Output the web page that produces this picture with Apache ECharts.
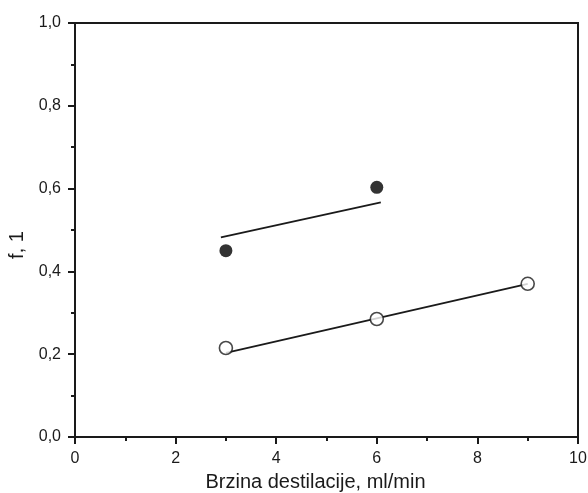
<!DOCTYPE html>
<html>
<head>
<meta charset="utf-8">
<script src="https://cdn.jsdelivr.net/npm/echarts@6/dist/echarts.min.js"></script>
<style>
  html, body { margin: 0; padding: 0; background: #fff; }
  #chart { width: 588px; height: 493px; }
</style>
</head>
<body>
<div id="chart"></div>
<script>
// measured points
const filledX = [3, 6];
const filledY = [0.45, 0.603];
const openX = [3, 6, 9];
const openY = [0.215, 0.285, 0.37];
// fitted lines (end points)
const filledFitX = [2.9, 6.08];
const filledFitY = [0.482, 0.567];
const openFitX = [3, 9];
const openFitY = [0.203, 0.37];

const pairs = (xs, ys) => xs.map((x, i) => [x, ys[i]]);

const chart = echarts.init(document.getElementById("chart"));
const font = "Liberation Sans, Arial, sans-serif";
const ink = "#1a1a1a";

let xAxis = {
  type: "value",
  min: 0,
  max: 10,
  interval: 2,
  name: "Brzina destilacije, ml/min",
  nameLocation: "center",
  nameGap: 35,
  nameTextStyle: { color: ink, fontSize: 20, fontFamily: font, padding: [0, 22, 0, 0] },
  axisLine: { onZero: false, lineStyle: { color: ink, width: 2 } },
  axisTick: { show: true, inside: false, length: 7, lineStyle: { color: ink, width: 2 } },
  minorTick: { show: true, splitNumber: 2, length: 4, lineStyle: { color: ink, width: 2 } },
  axisLabel: {
    color: ink,
    fontSize: 16,
    fontFamily: font,
    margin: 14,
    formatter: (v) => String(v),
  },
  splitLine: { show: false },
};

let yAxis = {
  type: "value",
  min: 0,
  max: 1,
  interval: 0.2,
  name: "f, 1",
  nameLocation: "center",
  nameGap: 44,
  nameTextStyle: { color: ink, fontSize: 20, fontFamily: font, padding: [0, 30, 0, 0] },
  axisLine: { onZero: false, lineStyle: { color: ink, width: 2 } },
  axisTick: { show: true, inside: false, length: 7, lineStyle: { color: ink, width: 2 } },
  minorTick: { show: true, splitNumber: 2, length: 4, lineStyle: { color: ink, width: 2 } },
  axisLabel: {
    color: ink,
    fontSize: 16,
    fontFamily: font,
    margin: 14,
    formatter: (v) => v.toFixed(1).replace(".", ","),
  },
  splitLine: { show: false },
};

let series = [
  {
    name: "fit1",
    type: "line",
    data: pairs(filledFitX, filledFitY),
    symbol: "none",
    lineStyle: { color: ink, width: 1.8 },
    z: 1,
  },
  {
    name: "fit2",
    type: "line",
    data: pairs(openFitX, openFitY),
    symbol: "none",
    lineStyle: { color: ink, width: 1.8 },
    z: 1,
  },
  {
    name: "filled",
    type: "scatter",
    data: pairs(filledX, filledY),
    symbol: "circle",
    symbolSize: 13,
    itemStyle: { color: "#000" },
    z: 3,
  },
  {
    name: "open",
    type: "scatter",
    data: pairs(openX, openY),
    symbol: "circle",
    symbolSize: 13,
    itemStyle: { color: "#fff", borderColor: ink, borderWidth: 1.6 },
    z: 3,
  },
];

let option = {
  animation: false,
  backgroundColor: "#fff",
  grid: {
    left: 75,
    right: 10,
    top: 23,
    bottom: 56,
    outerBoundsMode: "none",
    containLabel: false,
    show: true,
    borderColor: ink,
    borderWidth: 2,
  },
  xAxis,
  yAxis,
  series,
};
chart.setOption(option);
</script>
</body>
</html>
